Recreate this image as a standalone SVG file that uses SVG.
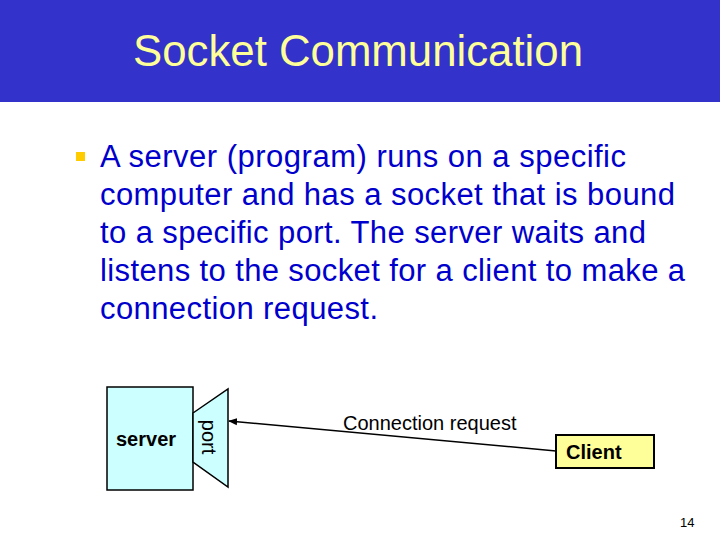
<svg xmlns="http://www.w3.org/2000/svg" width="720" height="540" viewBox="0 0 720 540">
<style>
.body{font-family:"Liberation Sans",Arial,sans-serif;font-size:31px;fill:#0000CC}
.lbl{font-family:"Liberation Sans",Arial,sans-serif;font-size:20px;fill:#000}
.b{font-weight:bold}
.shape{stroke:#000;stroke-width:1.5}
</style>
<defs>
<marker id="arr" viewBox="0 0 10 10" refX="9" refY="5" markerWidth="6" markerHeight="6" orient="auto-start-reverse">
<path d="M0,1 L10,5 L0,9 z" fill="#000"/>
</marker>
</defs>
<rect x="0" y="0" width="720" height="540" fill="#fff"/>
<rect x="0" y="0" width="720" height="102" fill="#3333CC"/>
<text x="133" y="66" textLength="450" lengthAdjust="spacingAndGlyphs" font-family="'Liberation Sans',Arial,sans-serif" font-size="44" fill="#FFFF99">Socket Communication</text>
<rect x="76" y="152" width="9" height="9" fill="#FFCC00"/>
<g class="body">
<text x="100" y="167" textLength="526" lengthAdjust="spacing">A server (program) runs on a specific</text>
<text x="100" y="205" textLength="575" lengthAdjust="spacing">computer and has a socket that is bound</text>
<text x="100" y="243" textLength="546" lengthAdjust="spacing">to a specific port. The server waits and</text>
<text x="100" y="281" textLength="585" lengthAdjust="spacing">listens to the socket for a client to make a</text>
<text x="100" y="319" textLength="278" lengthAdjust="spacing">connection request.</text>
</g>
<g id="server">
<rect class="shape" x="107" y="387" width="86" height="103" fill="#CCFFFF"/>
<text class="lbl b" x="116" y="446">server</text>
</g>
<g id="port">
<polygon class="shape" points="193,413 228,389 228,487 193,462" fill="#CCFFFF"/>
<text class="lbl" transform="translate(202,437) rotate(90)" text-anchor="middle">port</text>
</g>
<g id="client">
<rect x="556" y="435" width="98" height="33" fill="#FFFF99" stroke="#000" stroke-width="2"/>
<text class="lbl b" x="566" y="459">Client</text>
</g>
<g id="connectors">
<line x1="556" y1="451" x2="229" y2="421" stroke="#000" stroke-width="1.5" marker-end="url(#arr)"/>
<text class="lbl" x="343" y="430">Connection request</text>
</g>
<text x="680" y="527" font-family="'Liberation Sans',Arial,sans-serif" font-size="13" fill="#000">14</text>
</svg>
